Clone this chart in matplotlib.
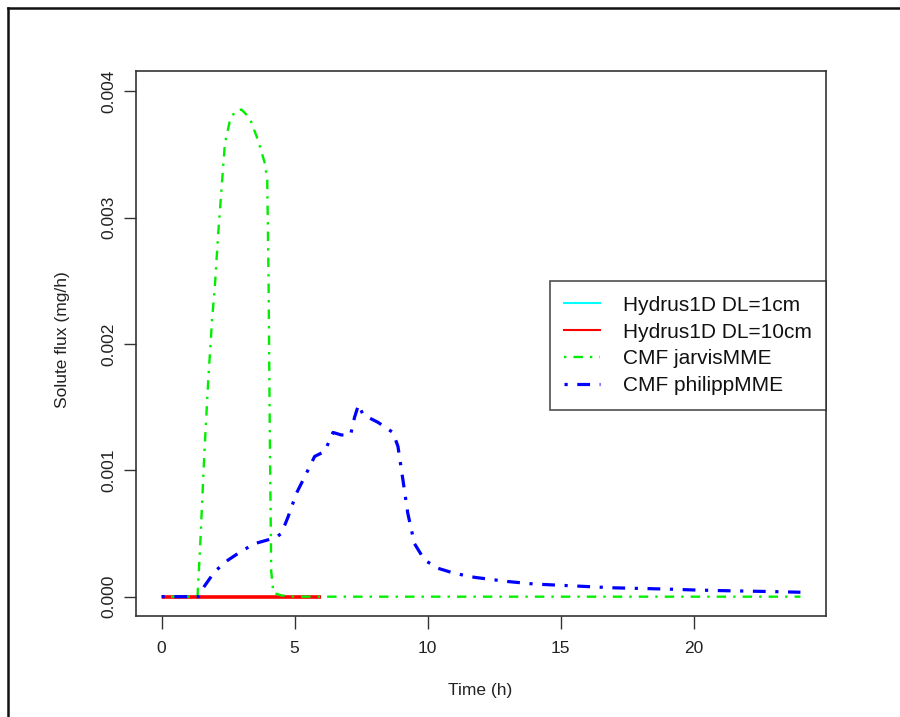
import matplotlib
matplotlib.use("Agg")
import matplotlib.pyplot as plt
from matplotlib.lines import Line2D

# Hydrus1D series (flat zero, 0..6 h)
hyd_t = [0, 1, 2, 3, 4, 5, 6]
hyd1_v = [0, 0, 0, 0, 0, 0, 0]
hyd10_v = [0, 0, 0, 0, 0, 0, 0]

# CMF jarvisMME
jar_t = [0, 1.35, 1.45, 1.6, 1.75, 1.9, 2.0, 2.13, 2.25, 2.38, 2.56, 2.75, 3.0,
         3.31, 3.63, 3.88, 3.97, 4.02, 4.07, 4.12, 4.2, 4.5, 5, 24]
jar_v = [0, 0, 0.0004, 0.0011, 0.0017, 0.0022, 0.00245, 0.00288, 0.00322, 0.00359,
         0.00376, 0.00384, 0.003856, 0.00379, 0.00361, 0.00343, 0.0033, 0.0025,
         0.0012, 0.0002, 0.00003, 0.00001, 0, 0]

# CMF philippMME
phi_t = [0, 1.39, 1.5, 2.0, 2.5, 3.0, 3.5, 4.0, 4.3, 4.5, 4.75, 5.07, 5.38, 5.75,
         6.13, 6.44, 6.75, 7.1, 7.25, 7.4, 7.57, 8.13, 8.69, 8.88, 9.07, 9.25,
         9.5, 9.88, 10.38, 11.0, 11.76, 13, 14, 15, 16, 17, 18, 19, 20, 21, 22, 23, 24]
phi_v = [0, 0, 0.00005, 0.0002, 0.00029, 0.00036, 0.00042, 0.00045, 0.00047,
         0.0005, 0.00063, 0.00082, 0.00095, 0.00111, 0.00115, 0.0013, 0.00128,
         0.00128, 0.00142, 0.00152, 0.00144, 0.00138, 0.0013, 0.00119, 0.00092,
         0.00066, 0.00042, 0.00029, 0.000225, 0.000185, 0.000153, 0.00012, 0.0001,
         0.00009, 0.00008, 0.00007, 0.000065, 0.00006, 0.000053, 0.000048,
         0.000044, 0.00004, 0.000035]

x_ticks = [0, 5, 10, 15, 20]
y_ticks = [0.000, 0.001, 0.002, 0.003, 0.004]
y_tick_labels = ["0.000", "0.001", "0.002", "0.003", "0.004"]
labels = ["Hydrus1D DL=1cm", "Hydrus1D DL=10cm", "CMF jarvisMME", "CMF philippMME"]

plt.rcParams['font.family'] = ['Liberation Sans', 'DejaVu Sans']

fig = plt.figure(figsize=(9, 7.17), dpi=100)
W, H = 900, 717
ax = fig.add_axes([136 / W, 1 - 616 / H, (826 - 136) / W, (616 - 71) / H])

dd = (0, (1, 3, 4, 3))
ax.plot(hyd_t, hyd1_v, color='cyan', lw=1.5, solid_capstyle='butt')
ax.plot(hyd_t, hyd10_v, color='red', lw=2.6, solid_capstyle='butt')
ax.plot(jar_t, jar_v, color='#00ee00', lw=1.7, linestyle=dd)
ax.plot(phi_t, phi_v, color='blue', lw=2.3, linestyle=dd)

ax.set_xlim(-0.96, 24.96)
ax.set_ylim(-0.000153, 0.004161)
ax.set_xticks(x_ticks)
ax.set_xticklabels([str(v) for v in x_ticks])
ax.set_yticks(y_ticks)
ax.set_yticklabels(y_tick_labels, rotation=90, va='center')
ax.tick_params(axis='both', length=9, width=1, color='#333333', labelsize=12.5,
               labelcolor='#222222', pad=9)
ax.tick_params(axis='y', pad=5)
for s in ax.spines.values():
    s.set_color('#333333')
    s.set_linewidth(1.2)

fig.text(480 / W, 1 - 691 / H, "Time (h)", ha='center', va='center', fontsize=12.5, color='#222222')
fig.text(62 / W, 1 - 340 / H, "Solute flux (mg/h)", ha='center', va='center',
         rotation=90, fontsize=12.5, color='#222222')

handles = [Line2D([], [], color='cyan', lw=1.5),
           Line2D([], [], color='red', lw=1.5),
           Line2D([], [], color='#00ee00', lw=1.7, linestyle=dd),
           Line2D([], [], color='blue', lw=2.3, linestyle=dd)]
leg = ax.legend(handles, labels, loc='upper right',
                bbox_to_anchor=(826 / W, 1 - 281 / H), bbox_transform=fig.transFigure,
                fancybox=False, frameon=True, fontsize=15, handlelength=1.7,
                labelspacing=0.38, borderpad=0.7, borderaxespad=0, handletextpad=1.1)
leg.get_frame().set_edgecolor('#222222')
leg.get_frame().set_linewidth(1.2)
for t in leg.get_texts():
    t.set_color('#111111')

# outer frame (top and left edges visible)
fig.add_artist(Line2D([8 / W, 1.0], [1 - 8 / H, 1 - 8 / H], transform=fig.transFigure,
                      color='#111111', lw=1.8))
fig.add_artist(Line2D([8 / W, 8 / W], [1 - 8 / H, 0], transform=fig.transFigure,
                      color='#111111', lw=1.8))

fig.savefig("out.png", dpi=100)
